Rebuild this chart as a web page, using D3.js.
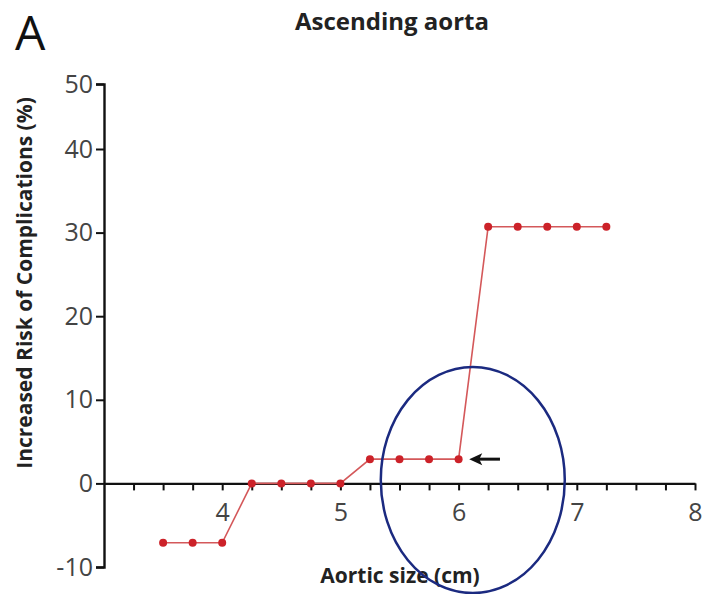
<!DOCTYPE html>
<html>
<head>
<meta charset="utf-8">
<script src="https://cdn.jsdelivr.net/npm/d3@7"></script>
<style>
  html, body { margin: 0; padding: 0; background: #fff; }
  svg { display: block; }
  text { font-family: "Open Sans", "Noto Sans", sans-serif; }
</style>
</head>
<body>
<svg id="chart" width="702" height="594"></svg>
<script>
// Aortic size (cm) and increased risk of complications (%)
const aorticSize = [3.5, 3.75, 4.0, 4.25, 4.5, 4.75, 5.0, 5.25, 5.5, 5.75, 6.0, 6.25, 6.5, 6.75, 7.0, 7.25];
const riskIncrease = [-7.1, -7.1, -7.1, 0, 0, 0, 0, 2.9, 2.9, 2.9, 2.9, 30.7, 30.7, 30.7, 30.7, 30.7];

const yTickValues = [-10, 0, 10, 20, 30, 40, 50];
const xLabelValues = [4, 5, 6, 7, 8];
const xMinorTicks = d3.range(3.25, 8.01, 0.25);

const panelLetter = "A";
const chartTitle = "Ascending aorta";
const xTitle = "Aortic size (cm)";
const yTitle = "Increased Risk of Complications (%)";

// Highlighted region and pointer (data units)
const highlightCenter = { x: 6.12, y: 0.4 };
const arrowFrom = { x: 6.35, y: 2.9 };
const arrowTo = { x: 6.09, y: 2.9 };

const svg = d3.select("#chart");

const x = d3.scaleLinear().domain([3, 8]).range([104, 695]);
// the top segment of the axis is compressed between 40 and 50
const y = d3.scaleLinear().domain([-10, 40, 50]).range([567, 149, 84]);

// panel letter and title
svg.append("text")
  .attr("x", 15).attr("y", 50)
  .attr("font-size", 48)
  .attr("font-family", "'Liberation Sans', Arial, sans-serif")
  .attr("fill", "#111")
  .text(panelLetter);

svg.append("text")
  .attr("x", 392).attr("y", 30)
  .attr("text-anchor", "middle")
  .attr("font-size", 24)
  .attr("font-weight", "bold")
  .attr("fill", "#222")
  .text(chartTitle);

const plainNumber = d => String(d);

// y axis
const yAxis = svg.append("g")
  .attr("transform", `translate(${x(3)},0)`)
  .call(d3.axisLeft(y).tickValues(yTickValues).tickSize(8).tickSizeOuter(8).tickPadding(3).tickFormat(plainNumber));
yAxis.select(".domain").attr("stroke", "#111").attr("stroke-width", 2.4);
yAxis.selectAll(".tick line").attr("stroke", "#111").attr("stroke-width", 2);
yAxis.selectAll(".tick text")
  .attr("font-size", 25)
  .attr("fill", "#444")
  .attr("font-family", "'Open Sans', sans-serif");

// x axis along y = 0
const xAxis = svg.append("g")
  .attr("transform", `translate(0,${y(0)})`)
  .call(d3.axisBottom(x).tickValues(xMinorTicks).tickSize(7).tickSizeOuter(0).tickPadding(13)
    .tickFormat(d => xLabelValues.some(v => Math.abs(v - d) < 1e-6) ? plainNumber(Math.round(d)) : ""));
xAxis.select(".domain").attr("stroke", "#111").attr("stroke-width", 2.4);
xAxis.selectAll(".tick line").attr("stroke", "#111").attr("stroke-width", 2);
xAxis.selectAll(".tick text")
  .attr("font-size", 25)
  .attr("fill", "#444")
  .attr("font-family", "'Open Sans', sans-serif");

// axis titles
svg.append("text")
  .attr("transform", `translate(32,${283}) rotate(-90)`)
  .attr("text-anchor", "middle")
  .attr("font-size", 21)
  .attr("font-weight", "bold")
  .attr("fill", "#222")
  .text(yTitle);

svg.append("text")
  .attr("x", 400).attr("y", 583)
  .attr("text-anchor", "middle")
  .attr("font-size", 21)
  .attr("font-weight", "bold")
  .attr("fill", "#222")
  .text(xTitle);

// risk line and points
const pts = aorticSize.map((s, i) => ({ s, r: riskIncrease[i] }));
svg.append("path")
  .datum(pts)
  .attr("fill", "none")
  .attr("stroke", "#d4585a")
  .attr("stroke-width", 1.6)
  .attr("d", d3.line().x(d => x(d.s)).y(d => y(d.r)));

svg.append("g")
  .selectAll("circle")
  .data(pts)
  .join("circle")
  .attr("cx", d => x(d.s))
  .attr("cy", d => y(d.r))
  .attr("r", 4)
  .attr("fill", "#cc2229");

// highlight ellipse
svg.append("ellipse")
  .attr("cx", x(highlightCenter.x))
  .attr("cy", y(highlightCenter.y))
  .attr("rx", 92)
  .attr("ry", 113)
  .attr("fill", "none")
  .attr("stroke", "#1b2a80")
  .attr("stroke-width", 2.5);

// pointer arrow
const ax1 = x(arrowFrom.x), ax2 = x(arrowTo.x), ay = y(arrowFrom.y);
svg.append("line")
  .attr("x1", ax1).attr("y1", ay)
  .attr("x2", ax2 + 8).attr("y2", ay)
  .attr("stroke", "#111").attr("stroke-width", 3);
svg.append("path")
  .attr("d", `M${ax2},${ay} L${ax2 + 13},${ay - 6} L${ax2 + 10},${ay} L${ax2 + 13},${ay + 6} Z`)
  .attr("fill", "#111");
</script>
</body>
</html>
